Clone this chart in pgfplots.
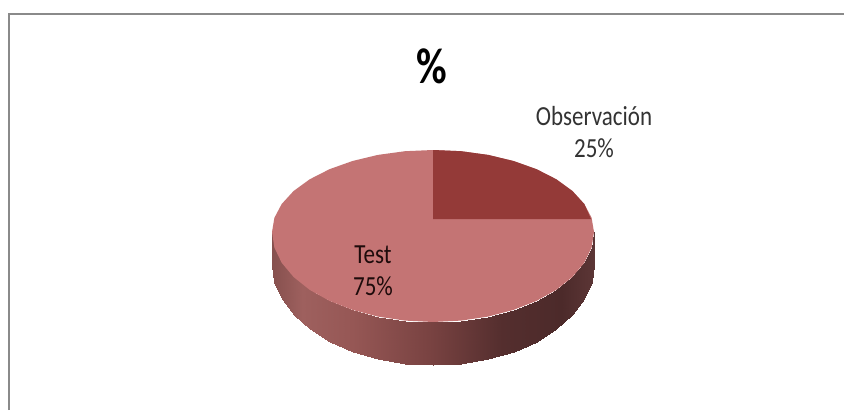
\documentclass[border=0pt]{standalone}
\usepackage{pgfplots}
\pgfplotsset{compat=1.18}
\usepackage{fontspec}
\setmainfont{Carlito}

\definecolor{sliceTest}{HTML}{C47474}
\definecolor{sliceObs}{HTML}{943A38}
\definecolor{frameGray}{HTML}{8A8A8A}

\begin{document}
\begin{tikzpicture}
\begin{axis}[
    scale only axis, width=844pt, height=410pt,
    xmin=0, xmax=844, ymin=0, ymax=410,
    y dir=reverse,
    hide axis,
    point meta min=272, point meta max=594,
    colormap={side}{
        rgb255(0)=(134,80,78)
        rgb255(30)=(158,96,94)
        rgb255(80)=(150,87,85)
        rgb255(160)=(120,66,65)
        rgb255(230)=(84,46,46)
        rgb255(290)=(76,42,42)
        rgb255(322)=(92,54,54)
    },
]
% white page, keeps the full size of the picture
\addplot[fill=white, draw=none] coordinates {(0,0) (844,0) (844,410) (0,410)} -- cycle;
% rim of the pie: upper edge and lower edge at each x
\addplot[surf, shader=interp, mesh/rows=2, point meta=x] table {
x y
594 232
591.6 247.6
584.3 262.8
572.4 277
556.3 289.9
536.5 300.9
513.5 309.9
488.1 316.6
461 320.6
433 322
405 320.6
377.9 316.6
352.5 309.9
329.5 300.9
309.7 289.9
293.6 277
281.7 262.8
274.4 247.6
272 232
594 265
591.6 282.4
584.3 299.2
572.4 315
556.3 329.3
536.5 341.6
513.5 351.6
488.1 359
461 363.5
433 365
405 363.5
377.9 359
352.5 351.6
329.5 341.6
309.7 329.3
293.6 315
281.7 299.2
274.4 282.4
272 265
};
% top face, whole outline
\addplot[fill=sliceTest, draw=none] coordinates {
(433,150) (461,151.2) (488.1,154.9) (513.5,161) (536.5,169.2) (556.3,179.3)
(572.4,191) (584.3,204) (591.6,217.8) (594,232) (591.6,247.6) (584.3,262.8)
(572.4,277) (556.3,289.9) (536.5,300.9) (513.5,309.9) (488.1,316.6) (461,320.6)
(433,322) (405,320.6) (377.9,316.6) (352.5,309.9) (329.5,300.9) (309.7,289.9)
(293.6,277) (281.7,262.8) (274.4,247.6) (272,232) (274.4,217.8) (281.7,204)
(293.6,191) (309.7,179.3) (329.5,169.2) (352.5,161) (377.9,154.9) (405,151.2)
} -- cycle;
% Observacion slice
\addplot[fill=sliceObs, draw=none] coordinates {
(433,219) (433,150) (461,151.2) (488.1,154.9) (513.5,161) (536.5,169.2)
(556.3,179.3) (572.4,191) (584.3,204) (591,219)
} -- cycle;
% frame
\addplot[frameGray, line width=1.6pt] coordinates {(9,410) (9,14) (844,14)};

% the labels of the reference are stretched upwards
\node[font=\bfseries\fontsize{42}{42}\selectfont, yscale=1.2, transform shape] at (axis cs:432,66) {\%};
\node[font=\fontsize{23}{23}\selectfont, text=black!80, align=center, yscale=1.2, transform shape] at (axis cs:594,132)
    {Observación\\[4pt]25\%};
\node[font=\fontsize{23}{23}\selectfont, text=black!80!sliceObs, align=center, yscale=1.2, transform shape] at (axis cs:373,271)
    {Test\\[4pt]75\%};
\end{axis}
\end{tikzpicture}
\end{document}
